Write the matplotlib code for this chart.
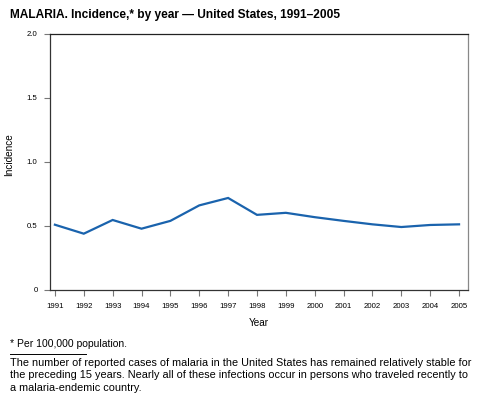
import matplotlib
matplotlib.use("Agg")
import matplotlib.pyplot as plt
from matplotlib.lines import Line2D

plt.rcParams['font.family'] = ['Liberation Sans', 'DejaVu Sans']

years = [1991, 1992, 1993, 1994, 1995, 1996, 1997, 1998, 1999, 2000,
         2001, 2002, 2003, 2004, 2005]
incidence = [0.51, 0.44, 0.547, 0.479, 0.54, 0.661, 0.719, 0.587, 0.603,
             0.569, 0.54, 0.513, 0.492, 0.508, 0.513]
yticks = [0, 0.5, 1.0, 1.5, 2.0]
ytick_labels = ['0', '0.5', '1.0', '1.5', '2.0']

title = "MALARIA. Incidence,* by year \u2014 United States, 1991\u20132005"
footnote = "* Per 100,000 population."
caption = ("The number of reported cases of malaria in the United States has remained relatively stable for\n"
           "the preceding 15 years. Nearly all of these infections occur in persons who traveled recently to\n"
           "a malaria-endemic country.")

W, H = 480, 399
fig = plt.figure(figsize=(W / 100, H / 100), dpi=100)
ax = fig.add_axes([50 / W, 1 - 290 / H, 418 / W, 256 / H])

ax.plot(years, incidence, color='#1a63ad', lw=1.6, solid_joinstyle='miter')
ax.set_xlim(1990.83, 2005.31)
ax.set_ylim(0, 2.0)
ax.set_xticks(years)
ax.set_xticklabels([str(y) for y in years], fontsize=5.6)
ax.set_yticks(yticks)
ax.set_yticklabels(ytick_labels, fontsize=5.6)
ax.tick_params(axis='both', direction='out', length=4, width=0.8, color='#777777', pad=5)
for s in ax.spines.values():
    s.set_color('#333333')
    s.set_linewidth(0.9)
ax.spines['right'].set_color('#888888')
ax.spines['top'].set_color('#222222')
ax.set_xlabel('Year', fontsize=7.2, labelpad=6)
ax.set_ylabel('Incidence', fontsize=7.2)
ax.yaxis.set_label_coords(-0.086, 0.527)

fig.text(10 / W, 1 - 15 / H, title, fontsize=8.6, fontweight='bold', va='center', ha='left')
fig.text(10 / W, 1 - 344 / H, footnote, fontsize=7.5, va='center', ha='left')
fig.add_artist(Line2D([10 / W, 86 / W], [1 - 354 / H, 1 - 354 / H], color='black', lw=0.7))
fig.text(10 / W, 1 - 358 / H, caption, fontsize=7.85, va='top', ha='left', linespacing=1.3)

fig.savefig('out.png', dpi=100)
